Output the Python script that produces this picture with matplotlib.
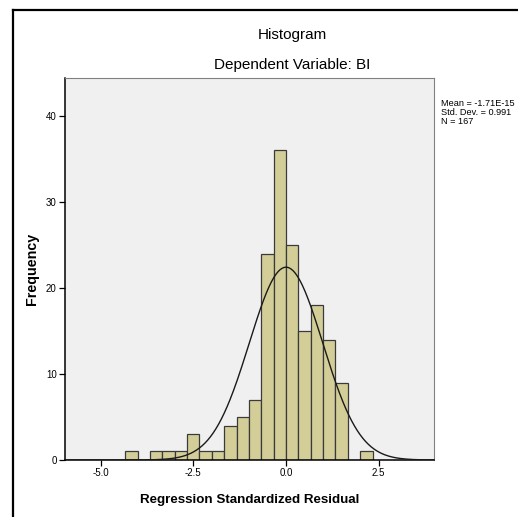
import numpy as np
import matplotlib
matplotlib.use("Agg")
import matplotlib.pyplot as plt
from matplotlib.lines import Line2D

plt.rcParams["font.family"] = ["Liberation Sans", "DejaVu Sans"]

# 度数分布（ビン幅 1/3）
bin_width = 1.0 / 3.0
bin_left_edges = np.arange(-13, 7) * bin_width
frequencies = [1, 0, 1, 1, 1, 3, 1, 1, 4, 5, 7, 24, 36, 25, 15, 18, 14, 9, 0, 1]

# 正規曲線のパラメータ
mean = -1.71e-15
std_dev = 0.991
n = 167

x_ticks = [-5.0, -2.5, 0.0, 2.5]
x_tick_labels = ["-5.0", "-2.5", "0.0", "2.5"]
y_ticks = [0, 10, 20, 30, 40]

fig = plt.figure(figsize=(5.18, 5.17), dpi=100)
ax = fig.add_axes([65 / 518, 1 - 460 / 517, (434 - 65) / 518, (460 - 78) / 517])
ax.set_facecolor("#f0f0f0")

ax.bar(bin_left_edges, frequencies, width=bin_width, align="edge",
       color="#d3ce98", edgecolor="#3a3a3a", linewidth=0.9, zorder=2)

xs = np.linspace(-6, 4, 400)
ys = n * bin_width / (std_dev * np.sqrt(2 * np.pi)) * np.exp(-0.5 * ((xs - mean) / std_dev) ** 2)
ax.plot(xs, ys, color="#1a1a1a", linewidth=1.0, zorder=3)

ax.set_xlim(-5.96, 3.99)
ax.set_ylim(0, 44.4)
ax.set_xticks(x_ticks)
ax.set_xticklabels(x_tick_labels)
ax.set_yticks(y_ticks)
ax.tick_params(axis="both", labelsize=7, length=4, width=0.9, direction="out", pad=2)

for side in ["top", "right"]:
    ax.spines[side].set_color("#808080")
    ax.spines[side].set_linewidth(0.8)
for side in ["left", "bottom"]:
    ax.spines[side].set_color("#000000")
    ax.spines[side].set_linewidth(1.1)

ax.set_xlabel("Regression Standardized Residual", fontsize=9.6, fontweight="bold", labelpad=11)
ax.set_ylabel("Frequency", fontsize=10.3, fontweight="bold", labelpad=0)
ax.yaxis.set_label_coords((39 - 65) / (434 - 65), 0.5)

fig.text(292 / 518, 1 - 35 / 517, "Histogram", ha="center", va="center", fontsize=11)
fig.text(292 / 518, 1 - 65 / 517, "Dependent Variable: BI", ha="center", va="center", fontsize=11)

stats = "Mean = -1.71E-15\nStd. Dev. = 0.991\nN = 167"
fig.text(441 / 518, 1 - 99 / 517, stats, ha="left", va="top", fontsize=6.6, linespacing=1.0)

# 外枠（左と上）
fig.add_artist(Line2D([12.5 / 518, 12.5 / 518], [0, 1 - 10 / 517], color="black", linewidth=1.6))
fig.add_artist(Line2D([12.5 / 518, 1], [1 - 10 / 517, 1 - 10 / 517], color="black", linewidth=1.6))

plt.savefig("out.png", dpi=100)
